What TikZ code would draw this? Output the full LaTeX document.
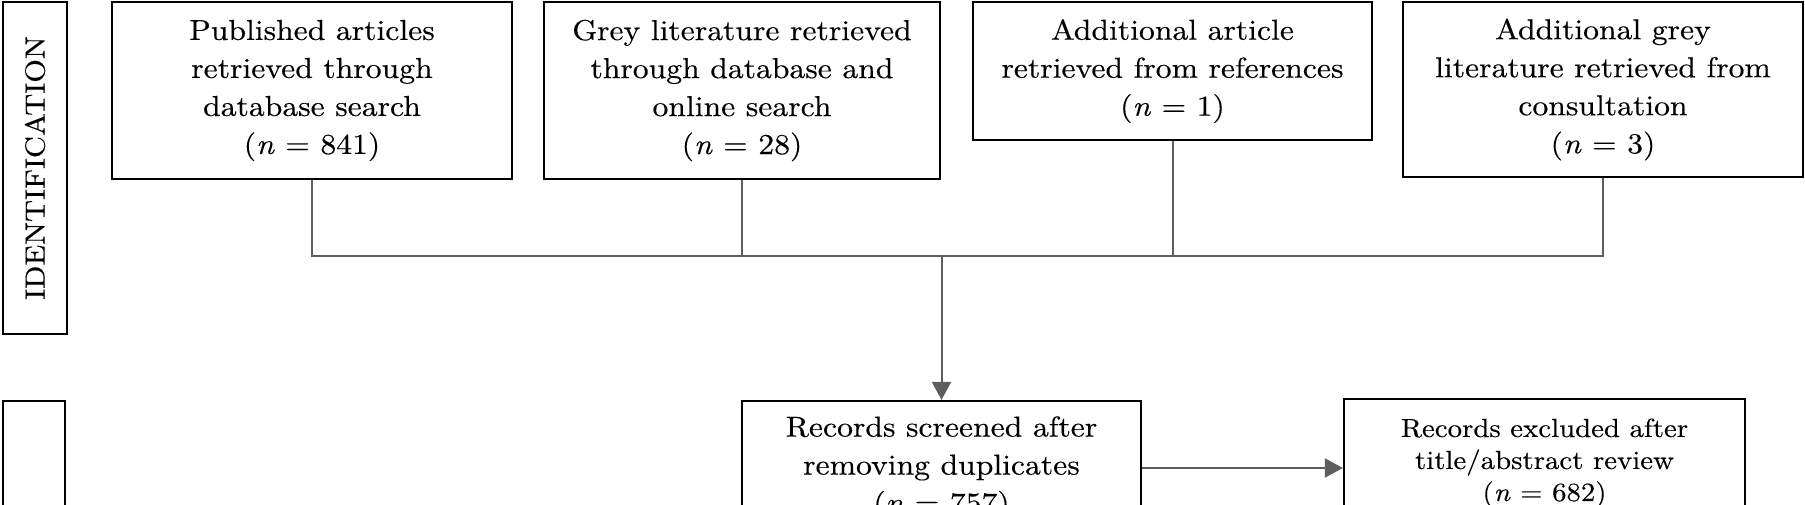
\documentclass[tikz,border=0pt]{standalone}
\usepackage{fontspec}
\setmainfont{lmroman10-regular.otf}[FakeStretch=1.1, FakeBold=0.3, ItalicFont=lmroman10-italic.otf]
\usetikzlibrary{arrows.meta}
\definecolor{linegray}{HTML}{5E5E5E}
\begin{document}
\begin{tikzpicture}[x=1pt,y=-1pt,
  box/.style={draw=black, line width=2.2pt, fill=white, align=center, inner sep=0pt,
    font=\fontsize{28.8}{38}\selectfont},
  smallbox/.style={box, font=\fontsize{26.2}{32}\selectfont},
  side/.style={draw=black, line width=2.2pt, fill=white, inner sep=0pt},
  conn/.style={draw=linegray, line width=2pt},
  arr/.style={conn, -{Triangle[length=18pt,width=19pt]}},
]
\path[use as bounding box, clip] (0,0) rectangle (1805,504);
\fill[white] (0,0) rectangle (1805,504);

% side labels
\node[side, rotate=90, minimum width=332pt, minimum height=64pt,
  font=\fontsize{27.7}{34}\selectfont] (idbox) at (35,168) {IDENTIFICATION};
\node[side, minimum width=62pt, minimum height=220pt, anchor=north] (scrbox) at (34,400) {};

% identification boxes
\node[box, minimum width=400pt, minimum height=177pt] (pub) at (312,90.5)
  {Published articles\\retrieved through\\database search\\(\textit{n} = 841)};
\node[box, minimum width=396pt, minimum height=177pt] (grey) at (742,90.5)
  {Grey literature retrieved\\through database and\\online search\\(\textit{n} = 28)};
\node[box, minimum width=399pt, minimum height=138pt] (add3) at (1172.5,71)
  {Additional article\\retrieved from references\\(\textit{n} = 1)};
\node[box, minimum width=400pt, minimum height=175pt] (add4) at (1603,89.5)
  {Additional grey\\literature retrieved from\\consultation\\(\textit{n} = 3)};

% screening boxes
\node[box, minimum width=399pt, minimum height=134pt] (screened) at (941.5,468)
  {Records screened after\\removing duplicates\\(\textit{n} = 757)};
\node[smallbox, minimum width=401pt, minimum height=128pt] (excluded) at (1544.5,463)
  {Records excluded after\\title/abstract review\\(\textit{n} = 682)};

% connectors
\coordinate (bus) at (0,256);
\draw[conn] (pub.south) -- (pub.south |- bus) -- (add4.south |- bus) -- (add4.south);
\draw[conn] (grey.south) -- (grey.south |- bus);
\draw[conn] (add3.south) -- (add3.south |- bus);
\draw[arr] (screened.north |- bus) -- (screened.north);
\draw[arr] (screened.east) -- (screened.east -| excluded.west);
\end{tikzpicture}
\end{document}
